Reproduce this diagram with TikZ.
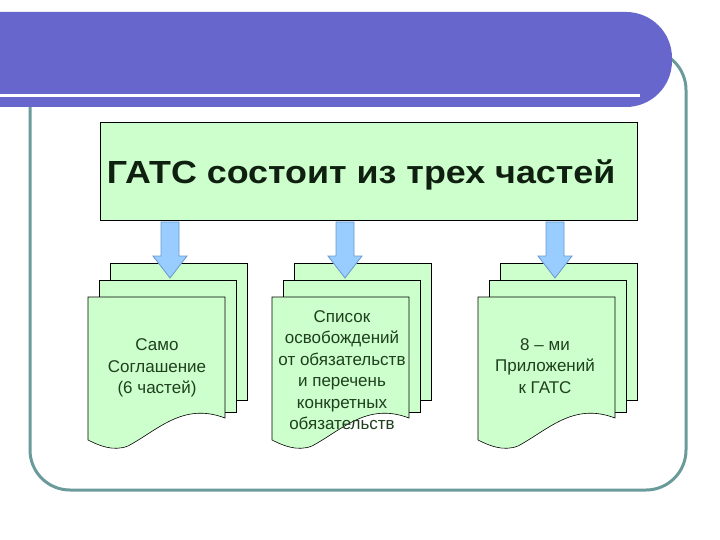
\documentclass[tikz,border=0pt]{standalone}
\usepackage{fontspec}
\setmainfont{Liberation Sans}
\definecolor{ban}{HTML}{6666CC}
\definecolor{frm}{HTML}{6A9A9A}
\definecolor{pg}{HTML}{CCFFCC}
\definecolor{arr}{HTML}{99CCFF}
\definecolor{arrd}{HTML}{6699CC}
\definecolor{txt}{HTML}{1F3F1F}
\tikzset{page/.style={draw=black,fill=pg,line width=0.6pt},
 blockarr/.style={draw=arrd,fill=arr,line width=0.8pt},
 doctext/.style={font=\fontsize{17}{21.5}\selectfont,text=txt,align=center}}
\begin{document}
\begin{tikzpicture}[x=1pt,y=-1pt]
\useasboundingbox (0,0) rectangle (720,540);
\fill[white] (0,0) rectangle (720,540);
% frame
\draw[frm,line width=3pt,rounded corners=40pt] (30,50) rectangle (686,490);
% banner
\fill[ban,rounded corners=46pt] (-60,12) rectangle (672,107);
\fill[ban] (0,12) rectangle (100,107);
\fill[white] (0,94) rectangle (640,97);
% title
\node[draw=black,fill=pg,line width=0.6pt,minimum width=537pt,minimum height=98pt] (title) at (368.5,171) {};
\node[anchor=west,xscale=1.12,font=\bfseries\fontsize{32}{36}\selectfont,text=txt!50!black] (ttext) at (103,175) {ГАТС состоит из трех частей};
% stacks
\foreach \i/\x in {1/88,2/272,3/478}{
 \draw[page] (\x+22,263) rectangle (\x+159,400);
 \draw[page] (\x+11,280) rectangle (\x+148,412);
 \draw[page] (\x,297) -- (\x+137,297) -- (\x+137,418) .. controls (\x+95,402) and (\x+70,430) .. (\x+40,446) .. controls (\x+25,452) and (\x+10,445) .. (\x,440) -- cycle;
}
% arrows
\foreach \i/\x in {1/170,2/345,3/555}{
 \coordinate (a\i) at (\x,222);
 \draw[blockarr] (a\i) ++(-9,0) -- ++(18,0) -- ++(0,34) -- ++(8,0) -- ++(-17,22) -- ++(-17,-22) -- ++(8,0) -- cycle;
}
\node[doctext] (t1) at (157,368) {Само\\Соглашение\\(6 частей)};
\node[doctext] (t2) at (342,370) {Список\\освобождений\\от обязательств\\и перечень\\конкретных\\обязательств};
\node[doctext] (t3) at (545,366) {8 – ми\\Приложений\\к ГАТС};
\end{tikzpicture}
\end{document}
